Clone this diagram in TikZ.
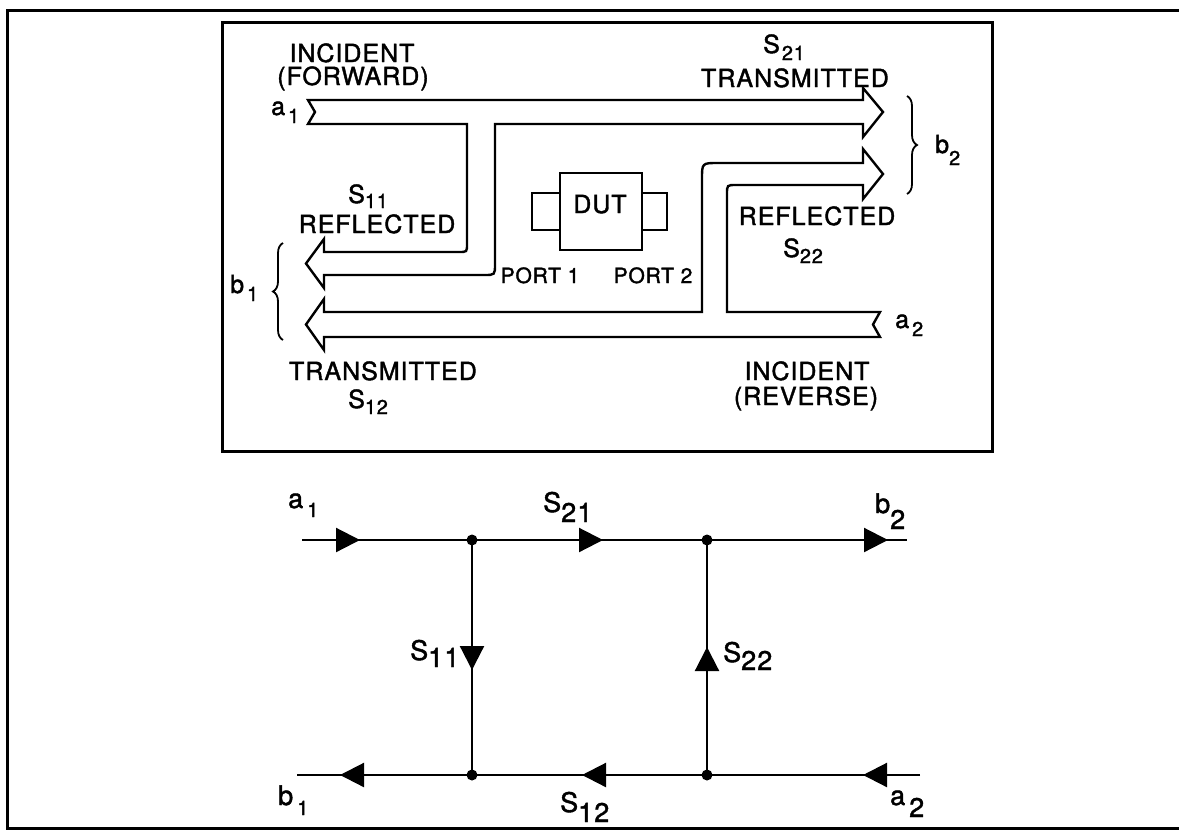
\documentclass[tikz,border=0pt]{standalone}
\usepackage{fontspec}
\setmainfont{TeX Gyre Heros}[LetterSpace=4,FakeBold=1.6]
\usetikzlibrary{arrows.meta,decorations.markings,decorations.pathreplacing}
\newcommand\sbs[2][6pt]{\raisebox{-#1}{\fontsize{20}{20}\selectfont #2}}
\newcommand\gsb[2][8pt]{\raisebox{-#1}{#2}}
\begin{document}
\begin{tikzpicture}[x=1pt,y=-1pt,
  lbl/.style={font=\fontsize{25}{25}\selectfont, inner sep=0pt, anchor=base},
  lblw/.style={font=\fontsize{25}{25}\selectfont, inner sep=0pt, anchor=base west},
  prt/.style={font=\fontsize{21}{21}\selectfont, inner sep=0pt, anchor=base},
  glb/.style={font=\fontsize{27}{27}\selectfont, inner sep=0pt, anchor=base west},
  frm/.style={line width=3pt},
  band/.style={line width=2.4pt, line join=miter, miter limit=20},
  brc/.style={line width=1.8pt, decorate, decoration={brace, amplitude=10pt}},
  sig/.style={line width=2.2pt},
  dot/.style={circle, fill=black, inner sep=0pt, minimum size=11pt},
  mk/.style={postaction={decorate}, decoration={markings,
     mark=at position #1 with {\arrow{Triangle[length=24pt,width=24pt]}}}}
]
\useasboundingbox (0,0) rectangle (1179,831);
% frames
\draw[frm] (1179,10) -- (7,10) -- (7,828) -- (1179,828);
\draw[frm] (222,22) rectangle (992,451);

% forward wave band (a1 -> S21 and S11)
\draw[band] (308,100) -- (863,100) -- (863,88) -- (883,112) -- (863,137) -- (863,124)
  -- (495,124) -- (495,264) .. controls (495,275) .. (484,275) -- (324,275)
  -- (324,288) -- (306,263.5) -- (324,239) -- (324,252) -- (459,252)
  .. controls (467,252) .. (467,244) -- (467,124) -- (308,124) -- (315,112) -- cycle;

% reverse wave band (a2 -> S12 and S22)
\draw[band] (880,312) -- (727,312) -- (727,194) .. controls (727,185) .. (736,185)
  -- (863,185) -- (863,199) -- (883,174) -- (863,149) -- (863,163) -- (718,163)
  .. controls (702,163) .. (702,179) -- (702,312) -- (324,312) -- (324,299)
  -- (306,324.5) -- (324,350) -- (324,337) -- (880,337) -- (873,324.5) -- cycle;

% braces
\draw[brc] (283,340) -- (283,243);
\draw[brc] (907,96) -- (907,194);

% DUT
\draw[band] (560,173) rectangle (642,250);
\draw[band] (532,193) rectangle (560,230);
\draw[band] (642,193) rectangle (667,230);
\node[lbl] (dut) at (600,213) {DUT};
\node[prt] (p1) at (540,283) {PORT 1};
\node[prt] (p2) at (653,283) {PORT 2};

% labels of the wave picture
\node[lbl] (incf) at (352,62) {INCIDENT};
\node[lbl] (fwd) at (353,85) {(FORWARD)};
\node[lblw] (a1) at (271,115) {a\hspace{3pt}\sbs[8pt]{1}};
\node[lblw] (s21) at (763,53) {S\hspace{2pt}\sbs[7pt]{21}};
\node[lbl] (tr1) at (795,87) {TRANSMITTED};
\node[lblw] (s11) at (348,203) {S\sbs[5pt]{11}};
\node[lbl] (rf1) at (377,233) {REFLECTED};
\node[lblw] (b1) at (230,293) {b\hspace{3pt}\sbs[8pt]{1}};
\node[lbl] (tr2) at (383,380) {TRANSMITTED};
\node[lblw] (s12) at (348,408) {S\sbs[6pt]{12}};
\node[lbl] (rf2) at (817,225) {REFLECTED};
\node[lblw] (s22) at (783,257) {S\sbs[6pt]{22}};
\node[lblw] (b2) at (935,153) {b\sbs[12pt]{2}};
\node[lblw] (a2) at (895,328) {a\hspace{3pt}\sbs[8pt]{2}};
\node[lbl] (incr) at (807,380) {INCIDENT};
\node[lbl] (rev) at (806,405) {(REVERSE)};

% signal flow graph
\coordinate (ina1) at (302,540);
\coordinate (outb2) at (907,540);
\coordinate (outb1) at (297,775);
\coordinate (ina2) at (920,775);
\node[dot] (n1) at (472,540) {};
\node[dot] (n2) at (707,540) {};
\node[dot] (n3) at (472,775) {};
\node[dot] (n4) at (707,775) {};
\draw[sig, mk=58pt] (ina1) -- (n1.center);
\draw[sig, mk=131pt] (n1.center) -- (n2.center);
\draw[sig, mk=181pt] (n2.center) -- (outb2);
\draw[sig, mk=130pt] (n1.center) -- (n3.center);
\draw[sig, mk=128pt] (n4.center) -- (n2.center);
\draw[sig, mk=57pt] (ina2) -- (n4.center);
\draw[sig, mk=125pt] (n4.center) -- (n3.center);
\draw[sig, mk=132pt] (n3.center) -- (outb1);

\node[glb] (ga1) at (288,508) {a\hspace{4pt}\sbs[9pt]{1}};
\node[glb] (gs21) at (543,512) {S\gsb[10pt]{21}};
\node[glb] (gb2) at (875,513) {b\gsb[16pt]{2}};
\node[glb] (gs11) at (410,660) {S\gsb[7pt]{11}};
\node[glb] (gs22) at (723,662) {S\gsb[8pt]{22}};
\node[glb] (gb1) at (278,805) {b\hspace{4pt}\sbs[10pt]{1}};
\node[glb] (gs12) at (560,812) {S\gsb[10pt]{12}};
\node[glb] (ga2) at (890,805) {a\hspace{4pt}\gsb[12pt]{2}};
\end{tikzpicture}
\end{document}
